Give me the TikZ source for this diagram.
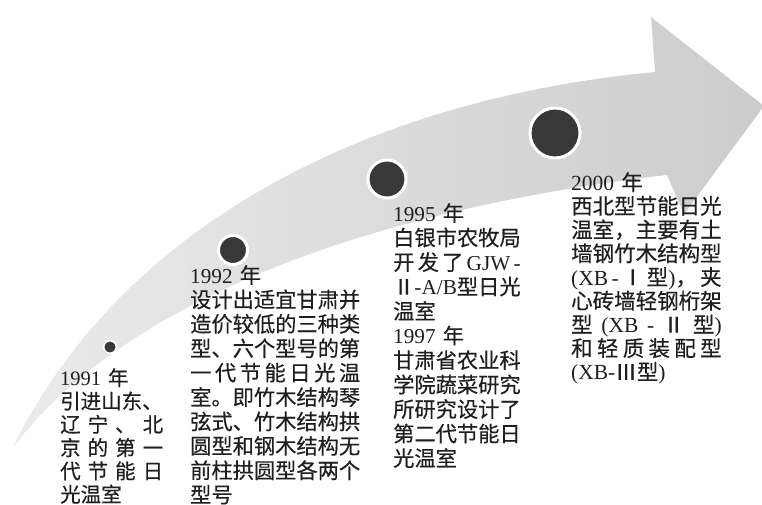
\documentclass[tikz,border=0pt]{standalone}
\usepackage{fontspec}
\setmainfont{Liberation Serif}
\newfontfamily\cjk[FakeBold=0.4]{Noto Sans CJK SC}
\newfontfamily\lat{Liberation Serif}
\newcommand\jl[2]{\makebox[#1][s]{#2}}
\newcommand\f{\hfill}
\tikzset{
  band/.style={left color=black!8, right color=black!20, draw=none},
  dot/.style={circle, fill=black!78, draw=white, line width=3pt, inner sep=0pt},
  txt/.style={anchor=north west, inner sep=0pt, align=left, text=black!88},
}
\begin{document}
\begin{tikzpicture}[x=1pt,y=-1pt]
\useasboundingbox (0,0) rectangle (762,504);
\fill[white] (0,0) rectangle (762,504);
% curved arrow
\path[band] (13,447) .. controls (120,230) and (360,100) .. (655,72)
  -- (651,17) -- (764,106) -- (684,214) -- (667,175)
  .. controls (450,200) and (150,270) .. (13,447) -- cycle;
% dots
\node[dot, line width=1.5pt, minimum size=12.5pt] (d1) at (110,347) {};
\node[dot, minimum size=29pt] (d2) at (233,250) {};
\node[dot, minimum size=38pt] (d3) at (387,179) {};
\node[dot, minimum size=50pt] (d4) at (555,133) {};
% texts
\node[txt, text width=103pt, font={\cjk\fontsize{20.5}{23.3}\selectfont}] (t1) at (60,368)
 {{\lat 1991} 年\\引进山东、\\\jl{103pt}{辽\f 宁\f 、\f 北}\\\jl{103pt}{京\f 的\f 第\f 一}\\\jl{103pt}{代\f 节\f 能\f 日}\\光温室};
\node[txt, text width=170pt, font={\cjk\fontsize{21.25}{24.4}\selectfont}] (t2) at (190,265)
 {{\lat 1992} 年\\设计出适宜甘肃并\\造价较低的三种类\\型、六个型号的第\\\jl{170pt}{一\f 代\f 节\f 能\f 日\f 光\f 温}\\室。即竹木结构琴\\弦式、竹木结构拱\\圆型和钢木结构无\\前柱拱圆型各两个\\型号};
\node[txt, text width=127.5pt, font={\cjk\fontsize{21.25}{24.5}\selectfont}] (t3) at (393,203)
 {{\lat 1995} 年\\白银市农牧局\\\jl{127.5pt}{开\f 发\f 了\f{\lat GJW}\f{\lat -}}\\\jl{127.5pt}{Ⅱ\f{\lat -A/B}\f 型日光}\\温室\\{\lat 1997} 年\\甘肃省农业科\\学院蔬菜研究\\所研究设计了\\第二代节能日\\光温室};
\node[txt, text width=150.5pt, font={\cjk\fontsize{21.5}{23.7}\selectfont}] (t4) at (571,172)
 {{\lat 2000} 年\\西北型节能日光\\温室，主要有土\\墙钢竹木结构型\\\jl{150.5pt}{{\lat (XB\f -}\f Ⅰ\f 型{\lat )}，\f 夹}\\心砖墙轻钢桁架\\\jl{150.5pt}{型\f{\lat (XB\f -}\f Ⅱ\f 型{\lat )}}\\\jl{150.5pt}{和\f 轻\f 质\f 装\f 配\f 型}\\{\lat (XB-}Ⅲ型{\lat )}};
\end{tikzpicture}
\end{document}
